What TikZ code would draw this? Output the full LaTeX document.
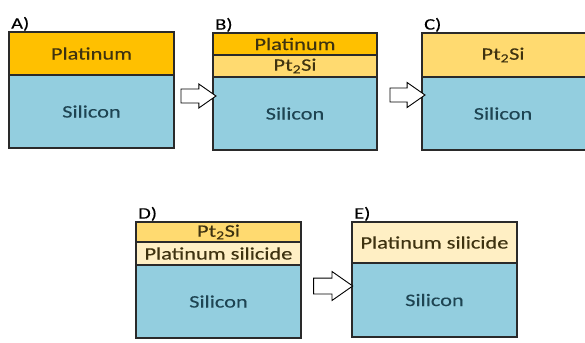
\documentclass[tikz,border=0pt]{standalone}
\usepackage{fontspec}
\setmainfont{Carlito}[FakeStretch=1.28,FakeBold=0.2]
\usepackage{xcolor}
\usetikzlibrary{positioning,shapes.arrows}

\definecolor{platorange}{HTML}{FFC000}
\definecolor{ptsiyellow}{HTML}{FFDA70}
\definecolor{silicidecream}{HTML}{FFEFC4}
\definecolor{siliconblue}{HTML}{93CEDF}
\definecolor{boxline}{HTML}{2A2A2A}
\definecolor{pttext}{HTML}{3E3210}
\definecolor{sitext}{HTML}{1E4452}

\begin{document}
\begin{tikzpicture}[x=1pt,y=-1pt,
    layer/.style={draw=boxline, line width=1.3pt, minimum width=164pt,
        minimum height=#1, inner sep=0pt, outer sep=0pt,
        font=\fontsize{17.5}{18}\selectfont},
    platinum/.style={layer=#1, fill=platorange, text=pttext},
    ptsi/.style={layer=#1, fill=ptsiyellow, text=pttext},
    silicide/.style={layer=#1, fill=silicidecream, text=pttext},
    silicon/.style={layer=73pt, fill=siliconblue, text=sitext},
    steplabel/.style={inner sep=1pt, font=\fontsize{16}{17}\selectfont},
    blockarrow/.style={single arrow, draw=black, fill=white, line width=0.9pt,
        single arrow tip angle=70, inner xsep=0pt}]
    \clip (0,0) rectangle (585,342);

    % A) platinum on silicon
    \node[platinum=43pt, minimum width=165pt, anchor=north west] (apt) at (9,32) {Platinum};
    \node[silicon, minimum width=165pt, below=0pt of apt] (asi) {Silicon};
    \node[steplabel, above right=0pt and 1pt of apt.north west] (alab) {A)};

    % B) first silicide layer
    \node[platinum=22pt, anchor=north west] (bpt) at (213,33) {Platinum};
    \node[ptsi=22pt, below=0pt of bpt] (bptsi) {Pt\textsubscript{2}Si};
    \node[silicon, below=0pt of bptsi] (bsi) {Silicon};
    \node[steplabel, above right=0pt and 1pt of bpt.north west] (blab) {B)};

    % C) platinum used up (box runs past the edge)
    \node[ptsi=44pt, minimum width=170pt, anchor=north west] (cptsi) at (422,33) {};
    \node[silicon, minimum width=170pt, below=0pt of cptsi] (csi) {};
    \node[font=\fontsize{17.5}{18}\selectfont, text=pttext] (cptsitxt) at (503,55) {Pt\textsubscript{2}Si};
    \node[font=\fontsize{17.5}{18}\selectfont, text=sitext] (csitxt) at (503,113.5) {Silicon};
    \node[steplabel, above right=0pt and 1pt of cptsi.north west] (clab) {C)};

    % D) platinum silicide grows
    \node[ptsi=20pt, minimum width=165pt, anchor=north west] (dptsi) at (136,222) {Pt\textsubscript{2}Si};
    \node[silicide=23pt, minimum width=165pt, below=0pt of dptsi] (dsilicide) {Platinum silicide};
    \node[silicon, minimum width=165pt, below=0pt of dsilicide] (dsi) {Silicon};
    \node[steplabel, above right=0pt and 1pt of dptsi.north west] (dlab) {D)};

    % E) final stack
    \node[silicide=41pt, minimum width=165pt, anchor=north west] (esilicide) at (352,222) {Platinum silicide};
    \node[silicon, minimum width=165pt, minimum height=74pt, below=0pt of esilicide] (esi) {Silicon};
    \node[steplabel, above right=0pt and 1pt of esilicide.north west] (elab) {E)};

    % Arrows between steps
    \node[blockarrow, minimum height=35pt, inner ysep=6.5pt,
        single arrow head extend=5pt] (ab) at (193.5,96) {};
    \node[blockarrow, minimum height=35pt, inner ysep=6.5pt,
        single arrow head extend=5.5pt] (bc) at (402.5,95) {};
    \node[blockarrow, minimum height=39pt, inner ysep=7.5pt,
        single arrow head extend=6.5pt] (de) at (327.5,286) {};
\end{tikzpicture}
\end{document}
